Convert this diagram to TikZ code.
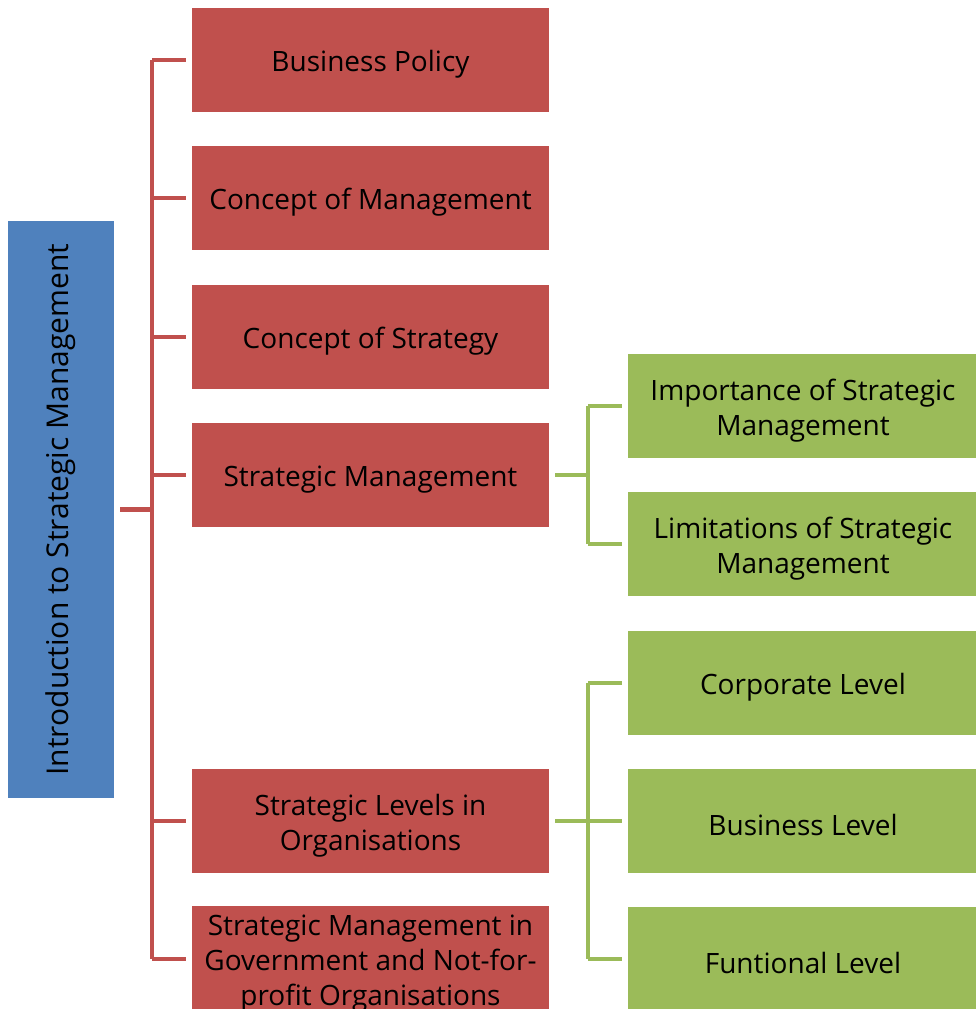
\documentclass[tikz,border=0pt]{standalone}
\usepackage{fontspec}
\setmainfont{Open Sans}
\usepackage{xcolor}
\usetikzlibrary{calc}

\definecolor{boxred}{HTML}{C0504D}
\definecolor{boxgreen}{HTML}{9BBB59}
\definecolor{boxblue}{HTML}{4F81BD}

\newcommand{\firstline}{\rule{0pt}{30pt}}

\begin{document}
\begin{tikzpicture}[x=1pt,y=-1pt]

\tikzset{
    box/.style = {
    inner sep=0pt,
    minimum height=104pt,
    align=center,
    execute at begin node={\firstline},
    font=\fontsize{28}{35}\selectfont
    }
}

\tikzstyle{topic}=[fill=boxred, minimum width=357pt, box]
\tikzstyle{detail}=[fill=boxgreen, minimum width=350pt, box]
\tikzstyle{redline}=[draw=boxred, line width=4.5pt]
\tikzstyle{greenline}=[draw=boxgreen, line width=4.5pt]

\useasboundingbox (0,0) rectangle (976,1009);

\node (intro) [fill=boxblue, minimum width=106pt, minimum height=577pt, inner sep=0pt] at (61,509.5) {};
\node [rotate=90, font=\fontsize{30}{35}\selectfont] at (intro.center) {Introduction to Strategic Management};

\node (policy) [topic] at (370.5,60) {Business Policy};
\node (mgmt) [topic] at (370.5,198) {Concept of Management};
\node (strat) [topic] at (370.5,337) {Concept of Strategy};
\node (sm) [topic] at (370.5,475) {Strategic Management};
\node (levels) [topic] at (370.5,821) {\firstline Strategic Levels in\\Organisations};
\node (gov) [topic] at (370.5,959) {\firstline Strategic Management in\\Government and Not-for-\\profit Organisations};

\node (imp) [detail] at (803,406) {\firstline Importance of Strategic\\Management};
\node (lim) [detail] at (803,544) {\firstline Limitations of Strategic\\Management};
\node (corp) [detail] at (803,683) {Corporate Level};
\node (bus) [detail] at (803,821) {Business Level};
\node (func) [detail] at (803,959) {Funtional Level};

\coordinate (trunk) at (152,0);
\coordinate (fork) at (588,0);

% red tree
\draw [redline] ([xshift=6pt]intro.east) -- (trunk |- intro.east);
\draw [redline] (trunk |- policy.west) -- (trunk |- gov.west);
\foreach \t in {policy,mgmt,strat,sm,levels,gov}
    \draw [redline] (trunk |- \t.west) -- ([xshift=-6pt]\t.west);

% green trees
\draw [greenline] ([xshift=6pt]sm.east) -- (fork |- sm.east);
\draw [greenline] (fork |- imp.west) -- (fork |- lim.west);
\draw [greenline] ([xshift=6pt]levels.east) -- (fork |- levels.east);
\draw [greenline] (fork |- corp.west) -- (fork |- func.west);
\foreach \t in {imp,lim,corp,bus,func}
    \draw [greenline] (fork |- \t.west) -- ([xshift=-6pt]\t.west);

\end{tikzpicture}
\end{document}
